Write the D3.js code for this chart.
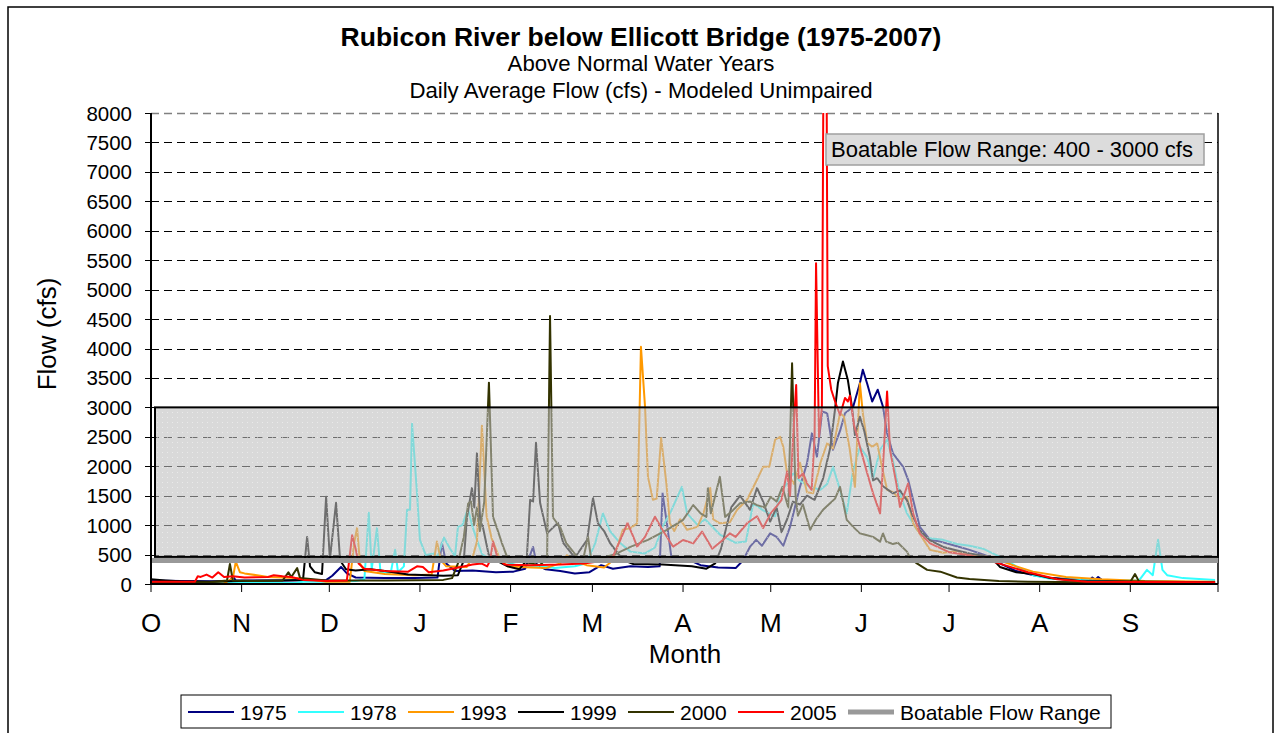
<!DOCTYPE html>
<html><head><meta charset="utf-8">
<script src="https://cdn.jsdelivr.net/npm/d3@7"></script>
<style>
html,body{margin:0;padding:0;background:#fff;}
svg{display:block;font-family:Arial,"Liberation Sans",sans-serif;}
</style></head><body>
<svg id="chart" width="1276" height="733"></svg>
<script>
// ---------- DATA ----------
const months = ["O","N","D","J","F","M","A","M","J","J","A","S"];
const monthDays = [31,30,31,31,28,31,30,31,30,31,31,30];
const yTicks = d3.range(0, 8001, 500);
const years = ["1975","1978","1993","1999","2000","2005"];
const seriesColors = ["#000080","#33ffff","#ff9900","#000000","#333300","#ff0000"];
const boatableLabel = "Boatable Flow Range";
const boatableRange = [400, 3000];

// [day of water year, flow cfs]
const s1975 = [[0,60],[10,50],[20,45],[27,50],[28,125],[29,60],[45,60],[60,70],[62,140],[65,290],[67,180],[70,110],[80,100],[90,100],[98,110],[99.5,700],[101,350],[104,220],[110,230],[118,200],[124,210],[128,260],[130.7,630],[132,320],[135,250],[140,220],[145,180],[150,200],[154,320],[158,260],[164,300],[170,290],[174,300],[175,1540],[176.5,1020],[178,460],[183,430],[188,320],[194,280],[200,270],[202.5,400],[205,640],[207,750],[209,650],[211.8,860],[214,800],[216.3,650],[218.6,970],[222,1650],[224.4,2050],[226.1,2560],[227.8,2160],[229.6,2930],[231.3,2900],[233.3,2280],[235.7,2600],[237.4,2900],[240.2,3010],[242.5,3410],[243.5,3640],[245,3400],[246.7,3100],[248.6,3300],[250.4,3010],[251.8,2560],[253.8,2220],[257.3,1990],[259,1770],[260.7,1430],[263,970],[266.5,750],[270,720],[275.7,640],[280,580],[284.6,500],[288,440],[290.4,350],[296,220],[302,150],[308,100],[318,70],[321,60],[322,110],[323,70],[324,120],[325.5,60],[335,40],[364,30]];
const s1978 = [[0,20],[40,15],[50,20],[52,40],[60,40],[70,50],[73,80],[74.5,1210],[75.5,250],[77.3,950],[78.5,200],[82,190],[83.5,580],[84.5,200],[86.5,300],[87.6,1260],[88.6,1260],[89.3,2720],[91,1540],[92,750],[94,490],[96.5,520],[98,460],[100.2,790],[102.3,600],[104,470],[105,970],[106.5,1000],[108.1,1230],[108.5,1260],[110,970],[111.5,750],[113.2,510],[116,420],[120,400],[125,320],[135,300],[138,270],[145,300],[149,350],[152,700],[154.6,1200],[157,900],[160.4,700],[164,550],[169,520],[172.4,620],[175,970],[178,1250],[181.6,1650],[183.4,1200],[187,1000],[189.5,1100],[194.6,840],[200,700],[203.5,720],[206,1370],[209.4,1250],[213.5,1150],[215.2,1550],[217.6,1710],[219.6,1880],[222,1750],[225.5,1650],[229,1600],[231.3,1700],[233.3,1990],[235.7,1600],[238,1200],[240,1880],[242.5,2330],[245,2150],[247,1790],[249.4,2280],[251.8,2450],[253.8,2100],[256,1560],[258.6,1200],[262,920],[265.5,780],[271,750],[275.7,680],[280,650],[284.6,600],[290.4,460],[296,300],[301.7,150],[307.6,90],[318,70],[338,60],[340.7,240],[342.7,150],[344.5,750],[346,240],[347.6,150],[353,100],[364,70]];
const s1993 = [[0,10],[25,10],[28,100],[29,380],[30.4,200],[32,180],[40,120],[50,100],[55,70],[60,40],[68,40],[69.5,700],[70.5,950],[71.5,350],[73,220],[80,170],[90,150],[96,160],[97.8,720],[99.2,400],[101,300],[108,290],[110,450],[111.5,720],[113.2,2690],[114.8,1150],[116.5,780],[119.4,420],[122,300],[130,280],[135,270],[140,350],[142.3,490],[144.4,400],[149,320],[155,280],[158,400],[161.4,920],[164,950],[166.3,1030],[167.6,4030],[169,3010],[170,1820],[171.7,1430],[173,1450],[174.5,2480],[176.3,1710],[177.5,1030],[179,900],[181,1100],[183.4,920],[186.9,970],[189,1200],[191.3,1630],[192.3,1100],[194.6,1030],[198,1050],[200.5,1260],[203.9,1430],[207.3,1770],[209.4,1990],[211.5,1990],[213.5,2450],[215.2,2500],[216.3,2330],[217.6,1880],[220,1700],[222,2060],[224.4,1560],[226.5,1540],[229,2060],[231.3,2390],[233.3,2300],[235.7,2900],[237,2850],[239,2300],[240.8,1650],[242.5,3410],[243.5,2900],[245,2400],[246.7,2330],[248.4,2390],[250,2000],[251.8,1600],[253.8,1560],[256.2,1440],[258.6,1480],[260.7,1030],[263,850],[266.5,580],[271,530],[276,560],[280,500],[284.6,480],[288,440],[290.4,400],[296,300],[301.7,210],[313,120],[325,80],[340,50],[364,40]];
const s1999 = [[0,80],[5,60],[10,45],[20,40],[30,50],[45,60],[52,70],[53.4,800],[54.4,300],[56,200],[58.5,170],[59.9,1480],[61.2,420],[63.3,1380],[64.7,400],[66.7,250],[70,230],[75,250],[80,220],[88,160],[95,150],[100,140],[105,150],[107,400],[108.1,1140],[109.8,1630],[110.6,1300],[111.5,2220],[112.6,1090],[113.6,950],[115.5,500],[118,400],[122,300],[126,250],[128.5,400],[129.7,1430],[130.7,1400],[131.7,2400],[133.1,1380],[135.5,860],[139.2,1040],[141,700],[145,450],[149.2,750],[151.2,1460],[152.9,1030],[155,900],[157,700],[160,500],[162,400],[165,340],[175,330],[185,300],[190,260],[193,350],[195,600],[197,1000],[198.5,1300],[201.5,1500],[204.9,1260],[207.3,1630],[209.4,1400],[211.8,1060],[214,1300],[215.7,880],[217.6,1100],[219.6,1400],[222,1350],[224.4,1500],[227,1430],[229.9,1790],[232.3,2300],[234,2970],[235,3420],[236.7,3780],[238.4,3460],[239.8,3000],[240.8,2530],[242.5,2840],[244,2600],[245.9,2160],[247,1760],[248.4,1800],[250.4,1660],[253.8,1540],[256.2,1590],[258.6,1420],[260.7,1140],[263,910],[266.5,740],[271,630],[275.7,570],[280,520],[284.6,480],[288,420],[290.4,290],[296,200],[301.7,170],[307.6,100],[318,50],[364,30]];
const s2000 = [[0,30],[20,30],[26,60],[27,340],[28,60],[35,50],[45,60],[47,200],[48,120],[50,270],[51,100],[60,60],[80,60],[100,70],[103,100],[105,350],[107,800],[108.5,1370],[109.5,1400],[110.5,1000],[111.5,1300],[112.5,900],[114,1400],[115.6,3420],[117,1140],[118.4,940],[120,700],[121.8,460],[125,400],[130,350],[133,320],[135.5,440],[136.5,4550],[137.5,1130],[140,960],[142,700],[146,450],[148,460],[149.5,800],[150.5,450],[155,450],[159,510],[164,630],[170,750],[176.5,920],[182,1090],[185.5,1340],[188,1200],[190,1140],[190.5,1630],[191.5,1200],[194.6,1820],[196.4,1140],[199,1250],[201.5,1370],[205,1400],[207.3,1340],[210,1300],[212,1480],[214,1400],[216,1650],[218,1300],[219.3,3750],[220.5,1500],[221.3,1160],[223,1350],[225.5,920],[227.5,1100],[229.9,1260],[232.3,1370],[234,1450],[235.7,1650],[238,1090],[240.2,970],[242.5,860],[244,840],[247,800],[249.4,720],[250.4,860],[251.5,720],[253.8,680],[255.5,700],[258.6,550],[259.7,440],[262,350],[265.5,240],[270,210],[275.7,110],[280,85],[290,50],[300,40],[320,30],[335,35],[336.6,170],[338,40],[364,20]];
const s2005 = [[0,40],[15,40],[16,130],[17,120],[19,160],[21,110],[23,200],[25,120],[28,130],[32,110],[40,120],[42,150],[45,130],[48,120],[52,70],[60,50],[67,60],[68.8,830],[70,600],[71,350],[73,260],[80,220],[88,210],[91,300],[93,290],[95,200],[100,230],[106,290],[110,330],[113,350],[115,300],[116,400],[117,720],[118.5,450],[121,330],[130,320],[140,330],[148,350],[153,380],[156,420],[158,465],[161,800],[163,1036],[165,800],[166.3,635],[169,800],[172.4,1143],[175,917],[178.6,634],[182,748],[185.5,690],[188.5,890],[192,600],[195.7,750],[198,860],[200,800],[204,1036],[207.3,1150],[209.4,950],[212,1200],[214,1320],[215.7,1430],[217.6,1910],[218.6,1500],[219.6,2447],[220.7,3380],[221.5,1800],[223.1,1880],[224.5,1700],[226,1600],[227,2500],[227.5,5450],[228.5,2500],[229.5,3000],[230.6,15000],[231.5,3700],[232.7,3300],[234,3100],[235.7,2870],[237.4,3160],[238.4,3100],[239.1,3200],[240.5,2700],[242.5,2330],[245,1880],[247,1540],[249.4,1200],[250.4,2000],[251.8,3270],[252.8,2280],[255,1700],[256.2,1310],[259,1710],[260.7,1200],[263,860],[266.5,690],[273,540],[280,490],[290,350],[300,200],[310,80],[320,40],[364,30]];
const seriesData = [s1975, s1978, s1993, s1999, s2000, s2005];

// ---------- LAYOUT ----------
const svg = d3.select("#chart");
const L = 151, R = 1218, T = 113, B = 584;
const x = d3.scaleLinear().domain([0, 365]).range([L, R]);
const y = d3.scaleLinear().domain([0, 8000]).range([B, T]);
const monthStarts = [0];
monthDays.forEach((d, i) => monthStarts.push(monthStarts[i] + d));

// outer border
svg.append("rect").attr("x", 8).attr("y", 7).attr("width", 1265).attr("height", 760)
  .attr("fill", "#fff").attr("stroke", "#000").attr("stroke-width", 1.5);

// titles
const title = svg.append("g").attr("text-anchor", "middle").attr("fill", "#000");
title.append("text").attr("x", 641).attr("y", 46).attr("font-size", 26.5).attr("font-weight", "bold")
  .text("Rubicon River below Ellicott Bridge (1975-2007)");
title.append("text").attr("x", 641).attr("y", 71).attr("font-size", 22.2).text("Above Normal Water Years");
title.append("text").attr("x", 641).attr("y", 98).attr("font-size", 22.2).text("Daily Average Flow (cfs) - Modeled Unimpaired");

// gridlines
svg.append("g").selectAll("line").data(yTicks.filter(v => v > 0)).join("line")
  .attr("x1", L).attr("x2", R).attr("y1", d => Math.round(y(d)) + 0.5).attr("y2", d => Math.round(y(d)) + 0.5)
  .attr("stroke", d => d === 8000 ? "#808080" : "#000").attr("stroke-width", d => d === 8000 ? 1.5 : 1)
  .attr("stroke-dasharray", "8,5");

// right border
svg.append("line").attr("x1", R).attr("x2", R).attr("y1", T).attr("y2", B)
  .attr("stroke", "#000").attr("stroke-width", 1.5);

// clip
svg.append("defs").append("clipPath").attr("id", "plotclip")
  .append("rect").attr("x", L).attr("y", T).attr("width", R - L).attr("height", B - T);

const pat = svg.select("defs").append("pattern").attr("id", "dots")
  .attr("patternUnits", "userSpaceOnUse").attr("width", 5).attr("height", 5);
pat.append("rect").attr("width", 5).attr("height", 5).attr("fill", "rgba(190,190,190,0.58)");
pat.append("rect").attr("x", 2).attr("y", 2).attr("width", 1).attr("height", 1).attr("fill", "rgba(255,255,255,0.45)");

// series
const line = d3.line().x(d => x(d[0])).y(d => y(d[1]));
const gS = svg.append("g").attr("clip-path", "url(#plotclip)");
seriesData.forEach((s, i) => {
  gS.append("path").datum(s).attr("d", line).attr("fill", "none")
    .attr("stroke", seriesColors[i]).attr("stroke-width", 2).attr("stroke-linejoin", "round");
});

// boatable overlay box
svg.append("rect").attr("x", L + 4).attr("y", y(boatableRange[1]))
  .attr("width", R - L - 4).attr("height", y(460) - y(boatableRange[1]))
  .attr("fill", "url(#dots)").attr("stroke", "#000").attr("stroke-width", 2);

// boatable flow line at 400
svg.append("line").attr("x1", x(0)).attr("x2", x(365)).attr("y1", y(boatableRange[0])).attr("y2", y(boatableRange[0]))
  .attr("stroke", "#999999").attr("stroke-width", 5);

// label box
svg.append("rect").attr("x", 826).attr("y", 134).attr("width", 378).attr("height", 31)
  .attr("fill", "#dcdcdc").attr("stroke", "#a0a0a0").attr("stroke-width", 1.5);
svg.append("text").attr("x", 1012).attr("y", 157).attr("text-anchor", "middle").attr("font-size", 22)
  .text(`${boatableLabel}: ${boatableRange[0]} - ${boatableRange[1]} cfs`);

// y axis
svg.append("line").attr("x1", L).attr("x2", L).attr("y1", T).attr("y2", B + 1).attr("stroke", "#000").attr("stroke-width", 2);
const gy = svg.append("g");
gy.selectAll("line").data(yTicks).join("line")
  .attr("x1", L - 6).attr("x2", L).attr("y1", d => Math.round(y(d)) + 0.5).attr("y2", d => Math.round(y(d)) + 0.5)
  .attr("stroke", "#000").attr("stroke-width", 1);
gy.selectAll("text").data(yTicks).join("text")
  .attr("x", 132).attr("y", d => y(d) + 7.5).attr("text-anchor", "end").attr("font-size", 20.5)
  .text(d => d);

// x axis
svg.append("line").attr("x1", L).attr("x2", R).attr("y1", B).attr("y2", B).attr("stroke", "#000").attr("stroke-width", 2);
const gx = svg.append("g");
gx.selectAll("line").data(monthStarts).join("line")
  .attr("x1", d => x(d)).attr("x2", d => x(d)).attr("y1", B).attr("y2", B + 8)
  .attr("stroke", "#000").attr("stroke-width", 1);
gx.selectAll("text").data(months).join("text")
  .attr("x", (d, i) => x(monthStarts[i])).attr("y", 632).attr("text-anchor", "middle").attr("font-size", 26)
  .text(d => d);

// axis titles
svg.append("text").attr("x", 685).attr("y", 663).attr("text-anchor", "middle").attr("font-size", 26).text("Month");
svg.append("text").attr("transform", "translate(56,334) rotate(-90)").attr("text-anchor", "middle")
  .attr("font-size", 26).text("Flow (cfs)");

// legend
svg.append("rect").attr("x", 181).attr("y", 695).attr("width", 930).attr("height", 33)
  .attr("fill", "#fff").attr("stroke", "#000").attr("stroke-width", 1);
const legItems = years.map((yr, i) => ({label: yr, color: seriesColors[i], w: 2}))
  .concat([{label: boatableLabel, color: "#999999", w: 5}]);
const lg = svg.append("g");
legItems.forEach((it, i) => {
  const x0 = 188 + i * 110;
  lg.append("line").attr("x1", x0).attr("x2", x0 + 46).attr("y1", 712).attr("y2", 712)
    .attr("stroke", it.color).attr("stroke-width", it.w);
  lg.append("text").attr("x", x0 + 52).attr("y", 719.5).attr("font-size", 21).text(it.label);
});
</script>
</body></html>
